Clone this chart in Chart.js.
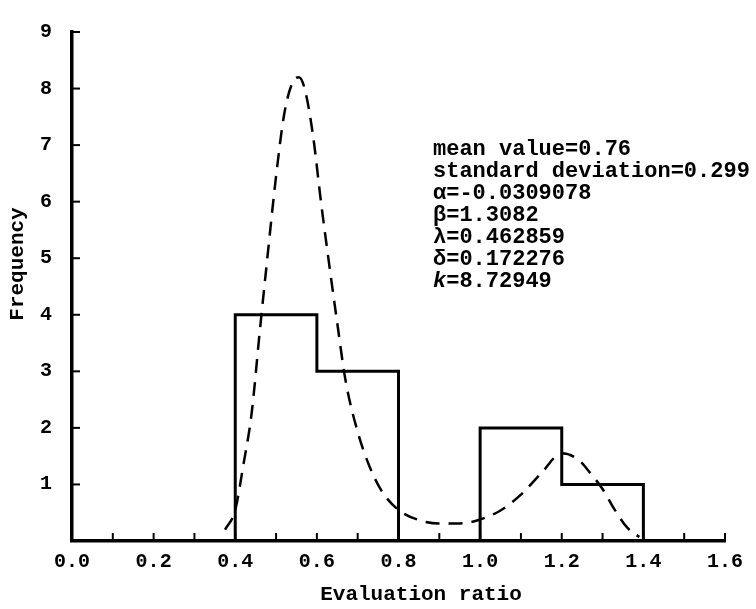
<!DOCTYPE html>
<html>
<head>
<meta charset="utf-8">
<script src="https://cdn.jsdelivr.net/npm/chart.js@4.4.1/dist/chart.umd.min.js"></script>
<style>
  html, body { margin: 0; padding: 0; background: #fff; }
  #wrap { width: 756px; height: 609px; position: relative; }
</style>
</head>
<body>
<div id="wrap"><canvas id="c" width="756" height="609"></canvas></div>
<script>
// ---- Data ----
const binEdges = [0.4, 0.6, 0.8, 1.0, 1.2, 1.4];
const binCounts = [4, 3, 0, 2, 1];

const curveX = [0.375, 0.40, 0.42, 0.44, 0.46, 0.48, 0.50, 0.52, 0.54, 0.556, 0.57, 0.59, 0.61, 0.63, 0.65, 0.67, 0.70, 0.73, 0.76, 0.80, 0.85, 0.90, 0.95, 1.00, 1.05, 1.10, 1.15, 1.20, 1.24, 1.27, 1.30, 1.33, 1.36, 1.39];
const curveY = [0.2, 0.55, 1.35, 2.25, 3.7, 5.1, 6.45, 7.55, 8.1, 8.2, 8.0, 7.2, 6.0, 4.9, 3.85, 2.85, 1.93, 1.3, 0.87, 0.55, 0.37, 0.31, 0.31, 0.38, 0.54, 0.82, 1.2, 1.55, 1.44, 1.2, 0.92, 0.55, 0.24, 0.07];

const xTicks = [0.0, 0.2, 0.4, 0.6, 0.8, 1.0, 1.2, 1.4, 1.6];
const xMinorTicks = [0.1, 0.3, 0.5, 0.7, 0.9, 1.1, 1.3, 1.5];
const yTicks = [0, 1, 2, 3, 4, 5, 6, 7, 8, 9];

const xTitle = "Evaluation ratio";
const yTitle = "Frequency";
const statLines = [
  "mean value=0.76",
  "standard deviation=0.299",
  "\u03B1=-0.0309078",
  "\u03B2=1.3082",
  "\u03BB=0.462859",
  "\u03B4=0.172276",
  "k=8.72949"
];

// ---- Build histogram outline from bins ----
const histPts = [];
for (let i = 0; i < binCounts.length; i++) {
  const c = binCounts[i];
  if (c === 0) { histPts.push({x: binEdges[i], y: null}); continue; }
  const prev = i > 0 ? binCounts[i - 1] : 0;
  if (prev === 0) histPts.push({x: binEdges[i], y: 0});
  histPts.push({x: binEdges[i], y: c});
  histPts.push({x: binEdges[i + 1], y: c});
  const next = i + 1 < binCounts.length ? binCounts[i + 1] : 0;
  if (next === 0) histPts.push({x: binEdges[i + 1], y: 0});
}
const curvePts = curveX.map((x, i) => ({x: x, y: curveY[i]}));

const FONT = "'Liberation Mono', 'Courier New', monospace";

const decor = {
  id: 'decor',
  afterDraw(chart) {
    const ctx = chart.ctx;
    const xs = chart.scales.x, ys = chart.scales.y;
    const area = chart.chartArea;
    ctx.save();
    ctx.strokeStyle = '#000';
    ctx.lineWidth = 2;
    // inner ticks on x axis
    const yb = ys.getPixelForValue(0);
    [...xTicks, ...xMinorTicks].forEach(v => {
      if (v === 0) return;
      const px = xs.getPixelForValue(v);
      ctx.beginPath(); ctx.moveTo(px, yb); ctx.lineTo(px, yb - 8); ctx.stroke();
    });
    // inner ticks on y axis
    const xl = xs.getPixelForValue(0);
    yTicks.forEach(v => {
      if (v === 0) return;
      const py = ys.getPixelForValue(v);
      ctx.beginPath(); ctx.moveTo(xl, py); ctx.lineTo(xl + 8, py); ctx.stroke();
    });
    // titles
    ctx.fillStyle = '#000';
    ctx.font = "bold 21px " + FONT;
    ctx.textAlign = 'center';
    ctx.textBaseline = 'middle';
    ctx.fillText(xTitle, 421, 595);
    ctx.save();
    ctx.translate(18, 264);
    ctx.rotate(-Math.PI / 2);
    ctx.fillText(yTitle, 0, 0);
    ctx.restore();
    // stats text
    ctx.font = "bold 22px " + FONT;
    ctx.textAlign = 'left';
    ctx.textBaseline = 'alphabetic';
    statLines.forEach((s, i) => {
      if (s.startsWith('k=')) {
        ctx.font = "italic bold 22px " + FONT;
        ctx.fillText('k', 433, 155 + i * 22);
        ctx.font = "bold 22px " + FONT;
        ctx.fillText(s.slice(1), 433 + ctx.measureText('k').width, 155 + i * 22);
      } else {
        ctx.fillText(s, 433, 155 + i * 22);
      }
    });
    ctx.restore();
  }
};

new Chart(document.getElementById('c'), {
  type: 'line',
  data: {
    datasets: [
      {
        data: histPts,
        borderColor: '#000',
        borderWidth: 3,
        pointRadius: 0,
        tension: 0,
        spanGaps: false,
        fill: false
      },
      {
        data: curvePts,
        borderColor: '#000',
        borderWidth: 2.5,
        borderDash: [14, 9],
        pointRadius: 0,
        cubicInterpolationMode: 'monotone',
        fill: false
      }
    ]
  },
  options: {
    responsive: false,
    animation: false,
    events: [],
    layout: { padding: { top: 15, right: 31, bottom: 0, left: 0 } },
    plugins: { legend: { display: false }, tooltip: { enabled: false }, title: { display: false } },
    scales: {
      x: {
        type: 'linear',
        min: 0, max: 1.6,
        afterBuildTicks: s => { s.ticks = xTicks.map(v => ({value: v})); },
        afterFit: s => { s.height = 68; },
        grid: { display: false, drawTicks: false },
        border: { display: true, color: '#000', width: 3.5 },
        ticks: {
          autoSkip: false, maxRotation: 0, padding: 9, color: '#000',
          font: { family: FONT, size: 20, weight: 'bold' },
          callback: v => v.toFixed(1)
        }
      },
      y: {
        type: 'linear',
        min: 0, max: 9,
        afterBuildTicks: s => { s.ticks = yTicks.filter(v => v > 0).map(v => ({value: v})); },
        afterFit: s => { s.width = 72; },
        grid: { display: false, drawTicks: false },
        border: { display: true, color: '#000', width: 3.5 },
        ticks: {
          autoSkip: false, padding: 20, color: '#000',
          font: { family: FONT, size: 20, weight: 'bold' },
          callback: v => String(v)
        }
      }
    }
  },
  plugins: [decor]
});
</script>
</body>
</html>
